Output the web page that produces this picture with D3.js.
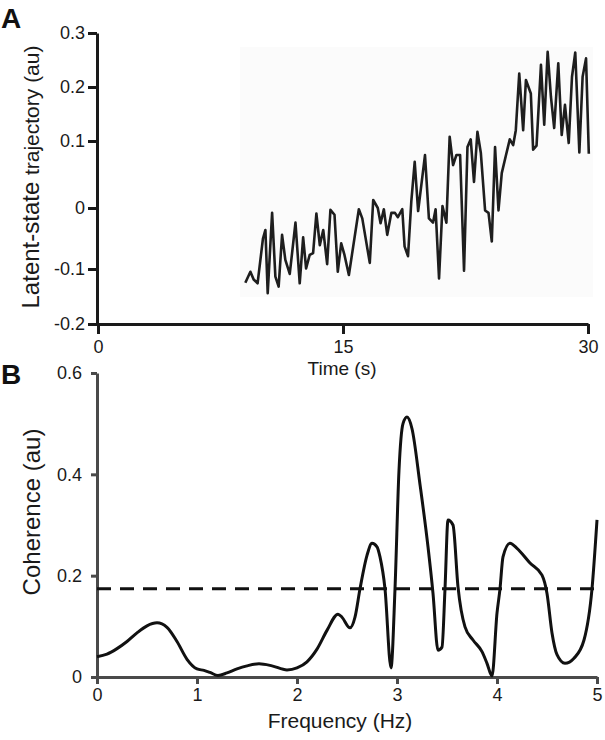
<!DOCTYPE html>
<html>
<head>
<meta charset="utf-8">
<script src="https://cdn.jsdelivr.net/npm/d3@7"></script>
<style>
  html, body { margin: 0; padding: 0; background: #fff; }
  svg { display: block; font-family: "Liberation Sans", Arial, Helvetica, sans-serif; }
</style>
</head>
<body>
<svg id="chart" width="605" height="740"></svg>
<script>
// ---------- Panel A data: latent-state trajectory ----------
const timeA = [9.02, 9.33, 9.53, 9.77, 10.10, 10.25, 10.39, 10.66, 10.86, 11.06,
  11.27, 11.47, 11.74, 12.09, 12.35, 12.56, 12.74, 12.96, 13.17, 13.37,
  13.58, 13.79, 14.03, 14.23, 14.48, 14.68, 14.89, 15.09, 15.36, 15.97,
  16.18, 16.64, 16.85, 17.13, 17.30, 17.50, 17.71, 17.96, 18.18, 18.36,
  18.63, 18.77, 18.98, 19.18, 19.39, 19.60, 20.02, 20.26, 20.51, 20.67,
  20.88, 21.09, 21.33, 21.53, 21.74, 21.94, 22.17, 22.41, 22.62, 22.82,
  23.02, 23.23, 23.44, 23.70, 23.91, 24.11, 24.31, 24.52, 24.72, 24.97,
  25.21, 25.42, 25.58, 25.79, 26.03, 26.20, 26.50, 26.64, 26.85, 27.12,
  27.32, 27.53, 27.73, 27.93, 28.18, 28.39, 28.59, 28.82, 29.02, 29.22,
  29.47, 29.67, 29.88, 30.05];
const latentA = [-0.125, -0.105, -0.119, -0.126, -0.050, -0.036, -0.144, -0.008, -0.114, -0.132,
  -0.044, -0.085, -0.109, -0.024, -0.126, -0.048, -0.099, -0.077, -0.074, -0.009,
  -0.061, -0.036, -0.092, -0.003, -0.011, -0.105, -0.058, -0.077, -0.111, -0.002,
  -0.017, -0.090, 0.012, 0.000, -0.025, -0.002, -0.044, -0.008, -0.008, -0.015,
  -0.002, -0.063, -0.079, 0.009, 0.069, -0.005, 0.079, -0.017, -0.024, -0.002,
  -0.117, 0.003, -0.024, 0.108, 0.064, 0.079, 0.079, -0.103, 0.091, 0.103,
  0.039, 0.117, 0.082, -0.004, -0.008, -0.055, 0.091, -0.004, 0.052, 0.078,
  0.103, 0.094, 0.120, 0.225, 0.120, 0.213, 0.188, 0.087, 0.093, 0.241,
  0.130, 0.265, 0.182, 0.124, 0.244, 0.111, 0.167, 0.097, 0.219, 0.264,
  0.083, 0.219, 0.253, 0.081];
const aXTicks = [0, 15, 30];
const aXLabels = ["0", "15", "30"];
const aYTicks = [-0.2, -0.1, 0, 0.1, 0.2, 0.3];
const aYLabels = ["-0.2", "-0.1", "0", "0.1", "0.2", "0.3"];

// ---------- Panel B data: coherence spectrum ----------
const freqB = [0, 0.1, 0.2, 0.3, 0.4, 0.5, 0.6, 0.7, 0.8, 0.9,
  1.0, 1.07, 1.13, 1.21, 1.3, 1.4, 1.5, 1.62, 1.75, 1.9,
  2.0, 2.1, 2.2, 2.3, 2.41, 2.45, 2.53, 2.58, 2.63, 2.7,
  2.75, 2.8, 2.83, 2.88, 2.94, 2.98, 3.02, 3.06, 3.10, 3.15,
  3.23, 3.31, 3.36, 3.41, 3.45, 3.48, 3.51, 3.56, 3.61, 3.68,
  3.76, 3.85, 3.90, 3.95, 4.0, 4.03, 4.06, 4.13, 4.20, 4.33,
  4.45, 4.50, 4.55, 4.60, 4.68, 4.77, 4.87, 4.95, 5.0];
const coherenceB = [0.040, 0.045, 0.056, 0.070, 0.087, 0.101, 0.107, 0.098, 0.070, 0.035,
  0.016, 0.013, 0.009, 0.003, 0.008, 0.016, 0.022, 0.026, 0.022, 0.014,
  0.018, 0.030, 0.055, 0.092, 0.124, 0.118, 0.097, 0.118, 0.174, 0.240,
  0.264, 0.257, 0.237, 0.174, 0.018, 0.174, 0.408, 0.500, 0.513, 0.490,
  0.380, 0.257, 0.165, 0.053, 0.059, 0.174, 0.310, 0.300, 0.178, 0.099,
  0.073, 0.050, 0.027, 0.002, 0.126, 0.174, 0.237, 0.264, 0.254, 0.225,
  0.201, 0.165, 0.087, 0.044, 0.027, 0.037, 0.073, 0.174, 0.310];
const thresholdB = 0.174;
const bXTicks = [0, 1, 2, 3, 4, 5];
const bXLabels = ["0", "1", "2", "3", "4", "5"];
const bYTicks = [0, 0.2, 0.4, 0.6];
const bYLabels = ["0", "0.2", "0.4", "0.6"];

const svg = d3.select("#chart");

// ================= Panel A =================
const xA = d3.scaleLinear().domain([0, 30]).range([98, 588]);
const yA = d3.scaleLinear().domain(aYTicks).range([324, 269, 208, 141, 87, 33]);

// faint background of the pasted trace
svg.append("rect")
  .attr("x", xA(8.7)).attr("y", yA(0.274))
  .attr("width", xA(30.3) - xA(8.7)).attr("height", yA(-0.151) - yA(0.274))
  .attr("fill", "#fbfbfb");

const gAx = svg.append("g").attr("transform", `translate(0,${yA(-0.2)})`)
  .call(d3.axisBottom(xA).tickValues(aXTicks).tickFormat((d, i) => aXLabels[i])
    .tickSize(10).tickSizeOuter(0).tickPadding(6));
const gAy = svg.append("g").attr("transform", `translate(${xA(0) - 1},0)`)
  .call(d3.axisLeft(yA).tickValues(aYTicks).tickFormat((d, i) => aYLabels[i])
    .tickSize(9).tickSizeOuter(0).tickPadding(3));
[gAx, gAy].forEach(g => {
  g.select(".domain").attr("stroke", "#1a1a1a").attr("stroke-width", 3);
  g.selectAll(".tick line").attr("stroke", "#1a1a1a").attr("stroke-width", 3);
  g.selectAll(".tick text").attr("fill", "#1a1a1a").style("font-size", "18px");
});

svg.append("path")
  .datum(timeA.map((t, i) => [t, latentA[i]]))
  .attr("fill", "none").attr("stroke", "#1e1e1e").attr("stroke-width", 2.6)
  .attr("stroke-linejoin", "round")
  .attr("d", d3.line().x(d => xA(d[0])).y(d => yA(d[1])));

svg.append("text").attr("x", 342).attr("y", 375).attr("text-anchor", "middle")
  .style("font-size", "19px").attr("fill", "#1a1a1a").text("Time (s)");

const ylabA = svg.append("text")
  .attr("transform", "translate(39,177) rotate(-90)")
  .attr("text-anchor", "middle").attr("fill", "#1a1a1a");
ylabA.append("tspan").style("font-size", "24px").text("Latent-state ");
ylabA.append("tspan").style("font-size", "21px").text("trajectory (au)");

svg.append("text").attr("x", 1).attr("y", 28).style("font-size", "28px")
  .style("font-weight", "bold").attr("fill", "#111").text("A");

// ================= Panel B =================
const xB = d3.scaleLinear().domain([0, 5]).range([97, 597]);
const yB = d3.scaleLinear().domain([0, 0.6]).range([677, 373]);

const gBx = svg.append("g").attr("transform", `translate(0,${yB(0)})`)
  .call(d3.axisBottom(xB).tickValues(bXTicks).tickFormat((d, i) => bXLabels[i])
    .tickSize(7).tickSizeOuter(0).tickPadding(4));
const gBy = svg.append("g").attr("transform", `translate(${xB(0)},0)`)
  .call(d3.axisLeft(yB).tickValues(bYTicks).tickFormat((d, i) => bYLabels[i])
    .tickSize(6).tickSizeOuter(0).tickPadding(9));
[gBx, gBy].forEach(g => {
  g.select(".domain").attr("stroke", "#4a4a4a").attr("stroke-width", 3);
  g.selectAll(".tick line").attr("stroke", "#4a4a4a").attr("stroke-width", 3);
  g.selectAll(".tick text").attr("fill", "#1a1a1a").style("font-size", "18px");
});

svg.append("line")
  .attr("x1", xB(0)).attr("x2", xB(5))
  .attr("y1", yB(thresholdB)).attr("y2", yB(thresholdB))
  .attr("stroke", "#111").attr("stroke-width", 3).attr("stroke-dasharray", "14,9");

svg.append("path")
  .datum(freqB.map((f, i) => [f, coherenceB[i]]))
  .attr("fill", "none").attr("stroke", "#111").attr("stroke-width", 3)
  .attr("stroke-linejoin", "round")
  .attr("d", d3.line().curve(d3.curveMonotoneX).x(d => xB(d[0])).y(d => yB(d[1])));

svg.append("text").attr("x", 340).attr("y", 728).attr("text-anchor", "middle")
  .style("font-size", "21px").attr("fill", "#1a1a1a").text("Frequency (Hz)");

svg.append("text")
  .attr("transform", "translate(40,512) rotate(-90)")
  .attr("text-anchor", "middle").style("font-size", "24px").attr("fill", "#1a1a1a")
  .text("Coherence (au)");

svg.append("text").attr("x", 1).attr("y", 384).style("font-size", "28px")
  .style("font-weight", "bold").attr("fill", "#111").text("B");
</script>
</body>
</html>
